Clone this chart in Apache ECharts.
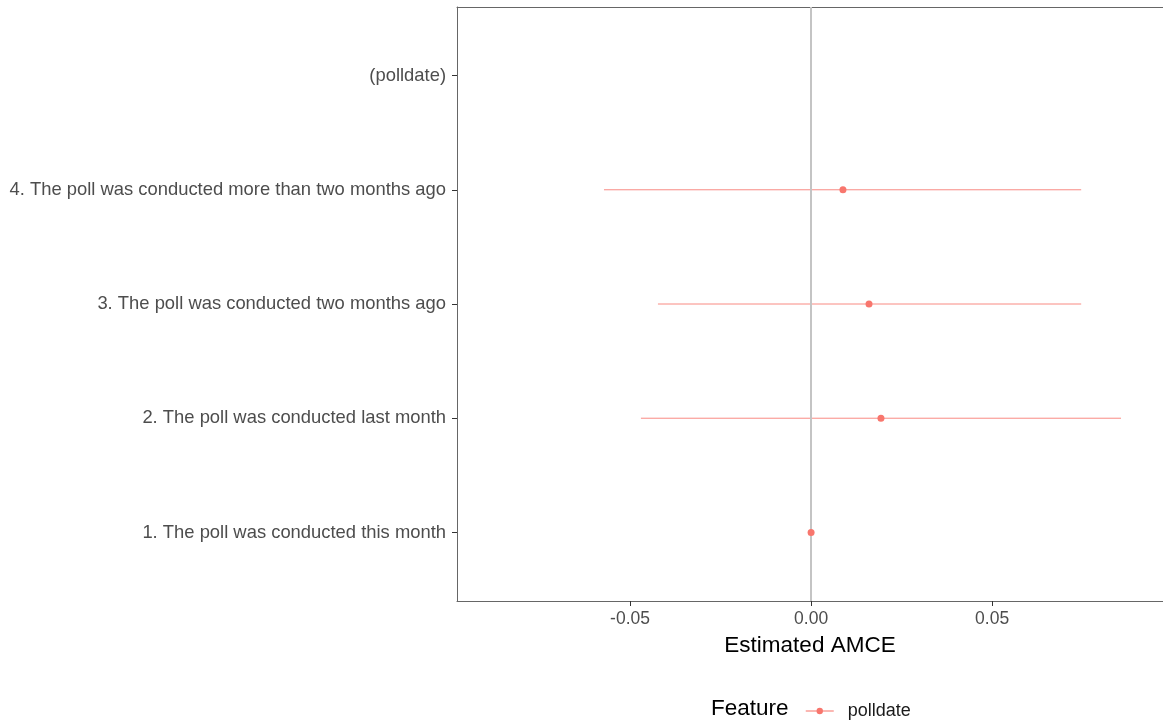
<!DOCTYPE html>
<html>
<head>
<meta charset="utf-8">
<script src="https://cdn.jsdelivr.net/npm/echarts@6/dist/echarts.min.js"></script>
<style>html,body{margin:0;padding:0;background:#fff}#c{width:1163px;height:722px}</style>
</head>
<body>
<div id="c"></div>
<script>
// Categories bottom -> top (index = y position)
const categories = [
  "1. The poll was conducted this month",
  "2. The poll was conducted last month",
  "3. The poll was conducted two months ago",
  "4. The poll was conducted more than two months ago",
  "(polldate)"
];
const estimates = [0, 0.0193, 0.0160, 0.0088];
const lower = [0, -0.0470, -0.0423, -0.0572];
const upper = [0, 0.0856, 0.0746, 0.0746];
const xTicks = [-0.05, 0, 0.05];
const xTickLabels = ["-0.05", "0.00", "0.05"];
const featureName = "polldate";

const pointData = estimates.map((v, i) => [v, i]);
const ciData = estimates.map((v, i) => [lower[i], upper[i], i]);

const FONT = "Liberation Sans, Arial, sans-serif";
const BORDER = '#666';
const chart = echarts.init(document.getElementById('c'), null, {renderer: 'canvas'});
chart.setOption({
  animation: false,
  backgroundColor: '#fff',
  grid: {left: 457, right: 0, top: 7, bottom: 121, containLabel: false, show: false},
  title: {text: 'Feature', left: 706, top: 692,
          textStyle: {fontFamily: FONT, fontSize: 22.5, fontWeight: 'normal', color: '#000'}},
  legend: {left: 800, top: 697, itemWidth: 28, itemHeight: 8, itemGap: 14,
           data: [featureName],
           textStyle: {fontFamily: FONT, fontSize: 18, color: '#1a1a1a', padding: [0, 0, 0, 9]},
           lineStyle: {width: 1.5, color: '#F8766D', opacity: 0.7},
           itemStyle: {color: '#F8766D'}},
  xAxis: [{
    type: 'value', min: -0.0978, max: 0.0972, position: 'bottom',
    axisLine: {show: true, onZero: false, lineStyle: {color: BORDER, width: 1}},
    splitLine: {show: false},
    axisTick: {show: true, length: 5, lineStyle: {color: '#333'}, customValues: xTicks},
    axisLabel: {fontFamily: FONT, fontSize: 17.5, color: '#4d4d4d', margin: 9,
                customValues: xTicks,
                formatter: v => { const i = xTicks.findIndex(t => Math.abs(t - v) < 1e-9); return i >= 0 ? xTickLabels[i] : ''; }},
    name: 'Estimated AMCE', nameLocation: 'middle', nameGap: 33,
    nameTextStyle: {fontFamily: FONT, fontSize: 22.5, color: '#000'}
  }, {
    type: 'value', min: -0.0978, max: 0.0972, position: 'top',
    axisLine: {show: true, onZero: false, lineStyle: {color: BORDER, width: 1}},
    splitLine: {show: false}, axisTick: {show: false}, axisLabel: {show: false}
  }],
  yAxis: {
    type: 'value', min: -0.6, max: 4.6,
    axisLine: {show: true, onZero: false, lineStyle: {color: BORDER, width: 1}},
    splitLine: {show: false},
    axisTick: {show: true, length: 5, lineStyle: {color: '#333'}, customValues: [0,1,2,3,4]},
    axisLabel: {fontFamily: FONT, fontSize: 18.4, color: '#4d4d4d', margin: 11,
                padding: [3, 0, 0, 0],
                customValues: [0,1,2,3,4],
                formatter: v => categories[Math.round(v)] || ''}
  },
  series: [
    {
      type: 'custom', name: 'ci', silent: true, z: 3,
      data: ciData,
      encode: {x: [0, 1], y: 2},
      renderItem: (params, api) => {
        const a = api.coord([api.value(0), api.value(2)]);
        const b = api.coord([api.value(1), api.value(2)]);
        return {type: 'line', shape: {x1: a[0], y1: a[1], x2: b[0], y2: b[1]},
                style: {stroke: '#F8766D', lineWidth: 1, opacity: 0.85}};
      },
      markLine: {
        silent: true, symbol: 'none', label: {show: false},
        lineStyle: {color: '#c4c4c4', width: 2, type: 'solid', opacity: 1},
        data: [{xAxis: 0}]
      }
    },
    {
      type: 'line', name: featureName, data: pointData, z: 5,
      symbol: 'circle', symbolSize: 7, showSymbol: true,
      lineStyle: {width: 0, opacity: 0},
      itemStyle: {color: '#F8766D'}
    }
  ]
});
</script>
</body>
</html>
